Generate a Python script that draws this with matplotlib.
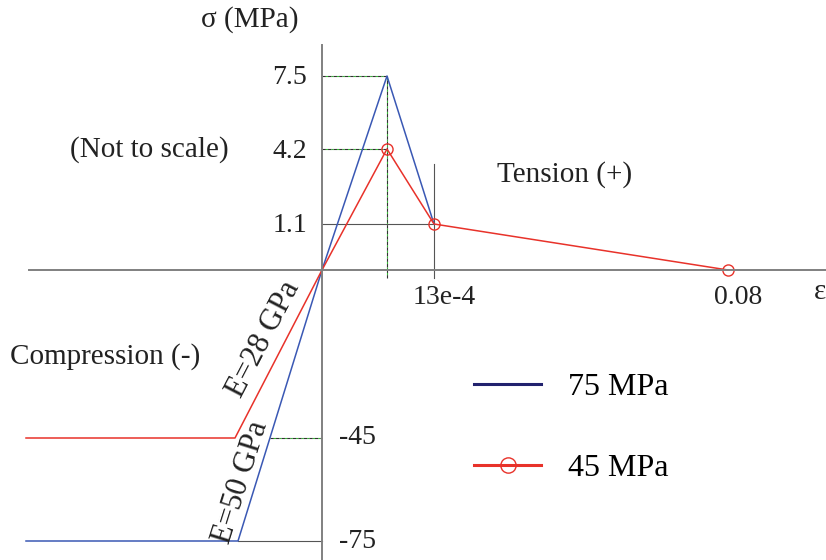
import numpy as np
import matplotlib
matplotlib.use('Agg')
import matplotlib.pyplot as plt
from matplotlib.lines import Line2D

plt.rcParams['font.family'] = ['Liberation Serif', 'DejaVu Serif']

# stress-strain data (compression negative)
strain_75 = [-0.0035, -0.0015, 0, 0.00015, 0.0013]
stress_75 = [-75, -75, 0, 7.5, 1.1]
strain_45 = [-0.0035, -45 / 28000, 0, 0.00015, 0.0013, 0.08]
stress_45 = [-45, -45, 0, 4.2, 1.1, 0]

ytick_pos = [7.5, 4.2, 1.1]
ytick_neg = [-45, -75]
xtick_vals = [0.0013, 0.08]
xtick_labels = ['13e-4', '0.08']

# schematic (not to scale) axes: piecewise linear knots
x_knots = [-0.0037, -0.0035, -45 / 28000, -0.0015, 0, 0.00015, 0.0013, 0.08, 0.0895]
x_pos = [0, 26, 235, 238, 322, 387, 434, 728, 826]
y_knots = [-80, -75, -45, 0, 1.1, 4.2, 7.5, 20]
y_pos = [0, 19, 122, 290, 336, 411, 484, 560]


def fwd_x(v):
    return np.interp(v, x_knots, x_pos)


def inv_x(v):
    return np.interp(v, x_pos, x_knots)


def fwd_y(v):
    return np.interp(v, y_knots, y_pos)


def inv_y(v):
    return np.interp(v, y_pos, y_knots)


blue = '#3a58b4'
red = '#e8322a'
grey = '#555555'

fig = plt.figure(figsize=(8.26, 5.6), dpi=100)
ax = fig.add_axes([0, 0, 1, 1])
ax.set_xscale('function', functions=(fwd_x, inv_x))
ax.set_yscale('function', functions=(fwd_y, inv_y))
ax.set_xlim(x_knots[0], x_knots[-1])
ax.set_ylim(y_knots[0], y_knots[-1])
ax.set_xticks([])
ax.set_yticks([])
ax.minorticks_off()

for s in ['top', 'right']:
    ax.spines[s].set_visible(False)
ax.spines['left'].set_position(('data', 0))
ax.spines['bottom'].set_position(('data', 0))
ax.spines['left'].set_bounds(-80, 12.6)
ax.spines['bottom'].set_bounds(-0.00347, 0.0895)
for s in ['left', 'bottom']:
    ax.spines[s].set_color('#808080')
    ax.spines[s].set_linewidth(1.4)

# guide lines
kw_pk = dict(color='#333333', lw=0.8, ls=(0, (3, 2)), gapcolor='#33bb33')
ax.plot([0, strain_75[3]], [stress_75[3], stress_75[3]], **kw_pk)
ax.plot([0, strain_45[3]], [stress_45[3], stress_45[3]], **kw_pk)
ax.plot([strain_75[3], strain_75[3]], [-2.1, stress_75[3]], **kw_pk)
ax.plot([0, 0.0013], [1.1, 1.1], color=grey, lw=0.8)
ax.plot([0.0013, 0.0013], [-2.1, 3.6], color=grey, lw=0.8)
ax.plot([-0.00093, 0], [-45, -45], **kw_pk)
ax.plot([-0.0015, 0], [-75, -75], color=grey, lw=0.8)

# curves
ax.plot(strain_75, stress_75, color=blue, lw=1.1)
ax.plot(strain_45, stress_45, color=red, lw=1.1, marker='o', ms=8,
        mfc='none', mec=red, mew=1.0, markevery=[3, 4, 5])

fs = 20
for v in ytick_pos:
    ax.annotate(str(v), (0, v), xytext=(-15, -2), textcoords='offset pixels',
                ha='right', va='center', fontsize=fs, color='#222222')
for v in ytick_neg:
    ax.annotate(str(v), (0, v), xytext=(17, 0), textcoords='offset pixels',
                ha='left', va='center', fontsize=fs, color='#222222')
for v, lab in zip(xtick_vals, xtick_labels):
    ax.annotate(lab, (v, 0), xytext=(10, -27), textcoords='offset pixels',
                ha='center', va='center', fontsize=fs, color='#222222')


def ftext(x, y, s, **kw):
    fig.text(x / 826, 1 - y / 560, s, ha='center', va='center',
             color='#222222', **kw)


ftext(250, 20, 'σ (MPa)', fontsize=21)
ftext(820, 292, 'ε', fontsize=21)
ftext(149, 150, '(Not to scale)', fontsize=21)
ftext(565, 175, 'Tension (+)', fontsize=21)
ftext(105, 357, 'Compression (-)', fontsize=21)
ftext(264, 339, 'E=28 GPa', fontsize=22, rotation=62.5)
ftext(241, 482, 'E=50 GPa', fontsize=22, rotation=72.5)

handles = [Line2D([], [], color='#22226e', lw=2.2),
           Line2D([], [], color=red, lw=2.2, marker='o', ms=11,
                  mfc='none', mec=red, mew=1.0)]
ax.legend(handles, ['75 MPa', '45 MPa'], loc='center left',
          bbox_to_anchor=(474 / 826, 1 - 428 / 560), frameon=False,
          fontsize=23, handlelength=2.1, handletextpad=0.85,
          labelspacing=1.6, borderpad=0, borderaxespad=0)

fig.savefig('out.png', dpi=100)
